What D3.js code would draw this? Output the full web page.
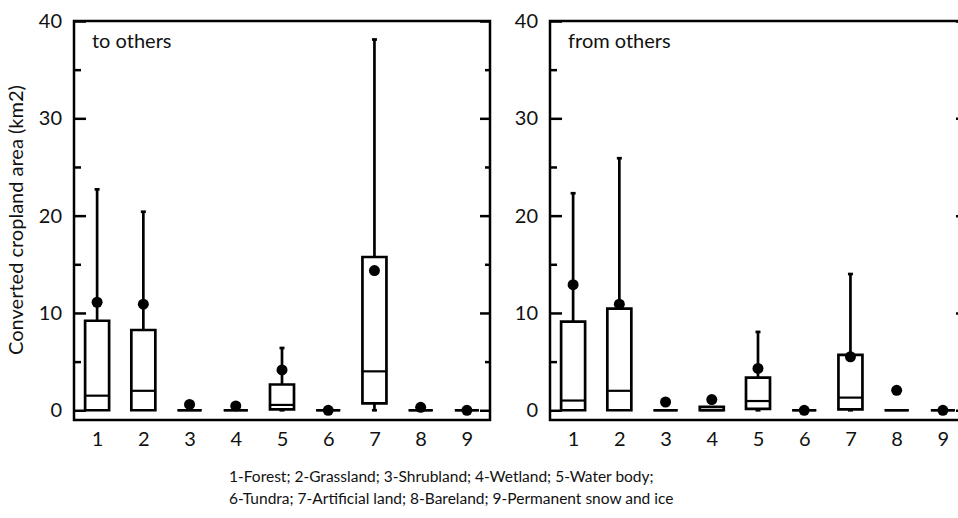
<!DOCTYPE html>
<html>
<head>
<meta charset="utf-8">
<script src="https://cdn.jsdelivr.net/npm/d3@7"></script>
<style>
  body { margin: 0; background: #fff; }
  svg { font-family: Lato, "Open Sans", sans-serif; }
</style>
</head>
<body>
<script>
// land cover classes 1..9
var categories = [1, 2, 3, 4, 5, 6, 7, 8, 9];

// "to others" panel
var toMin    = [0, 0, 0, 0, 0, 0, 0, 0, 0];
var toQ1     = [0, 0, 0, 0, 0.1, 0, 0.7, 0, 0];
var toMedian = [1.5, 2.0, 0, 0, 0.55, 0, 4.0, 0, 0];
var toQ3     = [9.2, 8.25, 0, 0, 2.65, 0, 15.75, 0, 0];
var toMax    = [22.7, 20.4, 0, 0, 6.4, 0, 38.1, 0, 0];
var toMean   = [11.1, 10.9, 0.6, 0.45, 4.15, 0, 14.35, 0.3, 0];

// "from others" panel
var fromMin    = [0, 0, 0, 0, 0, 0, 0, 0, 0];
var fromQ1     = [0, 0, 0, 0, 0.15, 0, 0.1, 0, 0];
var fromMedian = [1.0, 2.0, 0, 0, 0.95, 0, 1.3, 0, 0];
var fromQ3     = [9.1, 10.45, 0, 0.35, 3.35, 0, 5.7, 0, 0];
var fromMax    = [22.3, 25.9, 0, 0.35, 8.05, 0, 14.0, 0, 0];
var fromMean   = [12.9, 10.9, 0.85, 1.1, 4.3, 0, 5.5, 2.05, 0];

var yMajor = [0, 10, 20, 30, 40];
var yMinor = [5, 15, 25, 35];

var legendLines = [
  "1-Forest; 2-Grassland; 3-Shrubland; 4-Wetland; 5-Water body;",
  "6-Tundra; 7-Artificial land; 8-Bareland; 9-Permanent snow and ice"
];

var width = 958, height = 518;
var plotTop = 21, plotBottom = 420, panelW = 416;
var fontSize = 20;

var svg = d3.select('body').append('svg')
    .attr('width', width)
    .attr('height', height);

var y = d3.scaleLinear().domain([-1, 40]).range([plotBottom, plotTop]);

function makeStats(mn, q1, md, q3, mx, mean) {
  return categories.map(function(c, i) {
    return {cat: c, min: mn[i], q1: q1[i], med: md[i], q3: q3[i], max: mx[i], mean: mean[i]};
  });
}

var panels = [
  {x0: 74, label: 'to others', data: makeStats(toMin, toQ1, toMedian, toQ3, toMax, toMean)},
  {x0: 550, label: 'from others', data: makeStats(fromMin, fromQ1, fromMedian, fromQ3, fromMax, fromMean)}
];

function styleAxis(a) {
  a.attr('font-family', null).attr('font-size', null);
  a.select('.domain').remove();
  a.selectAll('line').attr('stroke-width', 2.5);
  a.selectAll('text').attr('font-size', fontSize).attr('fill', '#111');
}

panels.forEach(function(p) {
  var x = d3.scalePoint().domain(categories).range([p.x0, p.x0 + panelW]).padding(0.5);
  var g = svg.append('g');
  var boxW = 24, capW = 5;

  // frame
  g.append('rect')
    .attr('x', p.x0).attr('y', plotTop)
    .attr('width', panelW).attr('height', plotBottom - plotTop)
    .attr('fill', 'none').attr('stroke', '#000').attr('stroke-width', 2.5);

  // left axis, ticks pointing inwards
  g.append('g').attr('transform', 'translate(' + p.x0 + ',0)')
    .call(d3.axisLeft(y).tickValues(yMajor).tickSize(-12).tickPadding(12))
    .call(styleAxis);
  g.append('g').attr('transform', 'translate(' + p.x0 + ',0)')
    .call(d3.axisLeft(y).tickValues(yMinor).tickSize(-7).tickFormat(''))
    .call(styleAxis);

  // right axis
  g.append('g').attr('transform', 'translate(' + (p.x0 + panelW) + ',0)')
    .call(d3.axisRight(y).tickValues(yMajor).tickSize(-10).tickFormat(''))
    .call(styleAxis);
  g.append('g').attr('transform', 'translate(' + (p.x0 + panelW) + ',0)')
    .call(d3.axisRight(y).tickValues(yMinor).tickSize(-5).tickFormat(''))
    .call(styleAxis);

  // bottom axis labels
  g.append('g').attr('transform', 'translate(0,' + plotBottom + ')')
    .call(d3.axisBottom(x).tickSize(0).tickPadding(12))
    .call(styleAxis);

  // panel label
  g.append('text')
    .attr('x', p.x0 + 18).attr('y', 48)
    .attr('font-size', fontSize).attr('fill', '#111')
    .text(p.label);

  var box = g.selectAll('.box').data(p.data).enter().append('g').attr('class', 'box');

  // upper whisker
  var up = box.filter(function(d) { return d.max > d.q3; });
  up.append('line')
    .attr('x1', function(d) { return x(d.cat); }).attr('x2', function(d) { return x(d.cat); })
    .attr('y1', function(d) { return y(d.q3); }).attr('y2', function(d) { return y(d.max); })
    .attr('stroke', '#000').attr('stroke-width', 2.7);
  up.append('line')
    .attr('x1', function(d) { return x(d.cat) - capW / 2; }).attr('x2', function(d) { return x(d.cat) + capW / 2; })
    .attr('y1', function(d) { return y(d.max); }).attr('y2', function(d) { return y(d.max); })
    .attr('stroke', '#000').attr('stroke-width', 2.7);

  // lower whisker
  var low = box.filter(function(d) { return d.q1 > d.min; });
  low.append('line')
    .attr('x1', function(d) { return x(d.cat); }).attr('x2', function(d) { return x(d.cat); })
    .attr('y1', function(d) { return y(d.q1); }).attr('y2', function(d) { return y(d.min); })
    .attr('stroke', '#000').attr('stroke-width', 2.7);
  low.append('line')
    .attr('x1', function(d) { return x(d.cat) - capW / 2; }).attr('x2', function(d) { return x(d.cat) + capW / 2; })
    .attr('y1', function(d) { return y(d.min); }).attr('y2', function(d) { return y(d.min); })
    .attr('stroke', '#000').attr('stroke-width', 2.7);

  // box (path so that flat boxes still draw)
  box.append('path')
    .attr('d', function(d) {
      var x0 = x(d.cat) - boxW / 2, x1 = x(d.cat) + boxW / 2;
      return 'M' + x0 + ',' + y(d.q1) + 'H' + x1 + 'V' + y(d.q3) + 'H' + x0 + 'Z';
    })
    .attr('fill', 'none').attr('stroke', '#000').attr('stroke-width', 2.7);

  // median
  box.append('line')
    .attr('x1', function(d) { return x(d.cat) - boxW / 2; }).attr('x2', function(d) { return x(d.cat) + boxW / 2; })
    .attr('y1', function(d) { return y(d.med); }).attr('y2', function(d) { return y(d.med); })
    .attr('stroke', '#000').attr('stroke-width', 2.2);

  // mean
  box.append('circle')
    .attr('cx', function(d) { return x(d.cat); })
    .attr('cy', function(d) { return y(d.mean); })
    .attr('r', 5.5).attr('fill', '#000');
});

// y axis title
svg.append('text')
  .attr('transform', 'translate(23,220) rotate(-90)')
  .attr('text-anchor', 'middle')
  .attr('font-size', fontSize).attr('fill', '#111')
  .text('Converted cropland area (km2)');

// legend
svg.selectAll('.legend').data(legendLines).enter().append('text')
  .attr('class', 'legend')
  .attr('x', 229)
  .attr('y', function(d, i) { return 482 + i * 22; })
  .attr('font-size', 15.5).attr('fill', '#111')
  .text(function(d) { return d; });
</script>
</body>
</html>
